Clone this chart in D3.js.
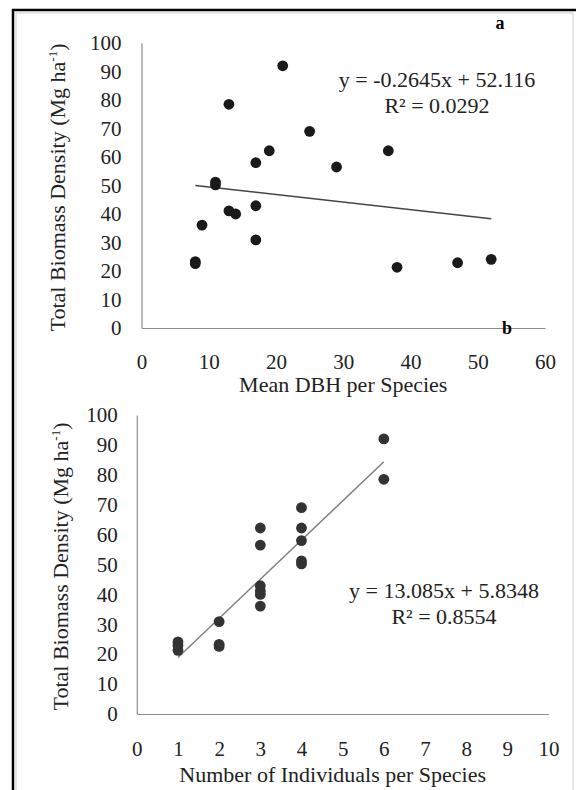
<!DOCTYPE html>
<html>
<head>
<meta charset="utf-8">
<script src="https://cdn.jsdelivr.net/npm/d3@7"></script>
<style>
  body { margin: 0; background: #fff; }
  svg { display: block; font-family: "Liberation Serif", "Times New Roman", serif; }
</style>
</head>
<body>
<div id="chart"></div>
<script>
const width = 576;
const height = 790;

// per-species values
const meanDbh     = [21, 13, 25, 19, 36.7, 17, 29, 11, 11, 17, 13, 14, 9, 17, 8, 8, 38, 47, 52];
const biomass     = [92, 78.5, 69, 62.2, 62.2, 58, 56.5, 51.2, 50.2, 42.9, 41.1, 40, 36.1, 30.9, 23.3, 22.6, 21.3, 22.9, 24.1];
const individuals = [6, 6, 4, 4, 3, 4, 3, 4, 4, 3, 3, 3, 3, 2, 2, 2, 1, 1, 1];

// linear fits as printed on the chart: [slope, intercept, xStart, xEnd]
const fitDbh = [-0.2645, 52.116, 8, 52];
const fitInd = [13.085, 5.8348, 1, 6];

const yTicks = [0, 10, 20, 30, 40, 50, 60, 70, 80, 90, 100];
const xTicksDbh = [0, 10, 20, 30, 40, 50, 60];
const xTicksInd = [0, 1, 2, 3, 4, 5, 6, 7, 8, 9, 10];

const svg = d3.select("#chart")
    .append("svg")
    .attr("width", width)
    .attr("height", height);

// frame
svg.append("rect")
    .attr("x", 16).attr("y", 13)
    .attr("width", 557).attr("height", 800)
    .attr("fill", "none")
    .attr("stroke", "#d0d0d0")
    .attr("stroke-width", 1);
svg.append("line").attr("x1", 13).attr("x2", 13).attr("y1", 9).attr("y2", height)
    .attr("stroke", "#000").attr("stroke-width", 2.5);
svg.append("line").attr("x1", 12).attr("x2", width).attr("y1", 10).attr("y2", 10)
    .attr("stroke", "#000").attr("stroke-width", 2.5);

function drawPanel(opt) {
    const x = d3.scaleLinear().domain(opt.xDomain).range([opt.left, opt.right]);
    const y = d3.scaleLinear().domain([0, 100]).range([opt.bottom, opt.top]);

    const g = svg.append("g");

    // axes
    const yAxis = g.append("g")
        .attr("transform", `translate(${opt.left},0)`)
        .call(d3.axisLeft(y).tickValues(yTicks).tickSize(0).tickPadding(opt.yPad));
    const xAxis = g.append("g")
        .attr("transform", `translate(0,${opt.bottom})`)
        .call(d3.axisBottom(x).tickValues(opt.xTicks).tickSize(0).tickPadding(opt.xPad));

    [yAxis, xAxis].forEach(a => {
        a.select(".domain").attr("stroke", "#8c8c8c").attr("stroke-width", 1.2);
        a.selectAll("text")
            .attr("font-family", "Liberation Serif")
            .attr("font-size", 21)
            .attr("fill", "#222");
    });

    // trend line
    const f = opt.fit;
    g.append("line")
        .attr("x1", x(f[2])).attr("y1", y(f[0] * f[2] + f[1]))
        .attr("x2", x(f[3])).attr("y2", y(f[0] * f[3] + f[1]))
        .attr("stroke", opt.lineColor)
        .attr("stroke-width", 1.5);

    // points
    g.append("g")
        .selectAll("circle")
        .data(opt.xs.map((d, i) => [d, biomass[i]]))
        .enter().append("circle")
        .attr("cx", d => x(d[0]))
        .attr("cy", d => y(d[1]))
        .attr("r", 5.4)
        .attr("fill", opt.dotColor);

    // titles
    const yt = g.append("text")
        .attr("transform", `translate(${opt.yTitleX},${(opt.top + opt.bottom) / 2 + 2}) rotate(-90)`)
        .attr("text-anchor", "middle")
        .attr("font-size", 22)
        .attr("fill", "#222");
    yt.append("tspan").text("Total Biomass Density (Mg ha");
    yt.append("tspan").attr("dy", -8).attr("font-size", 13).text("-1");
    yt.append("tspan").attr("dy", 8).text(")");

    g.append("text")
        .attr("x", (opt.left + opt.right) / 2 + opt.xTitleDx)
        .attr("y", opt.xTitleY)
        .attr("text-anchor", "middle")
        .attr("font-size", 22)
        .attr("fill", "#222")
        .text(opt.xTitle);

    // equation
    g.append("text")
        .attr("x", opt.eqX).attr("y", opt.eqY)
        .attr("text-anchor", "middle")
        .attr("font-size", 22)
        .attr("fill", "#222")
        .text(opt.eq);
    g.append("text")
        .attr("x", opt.eqX).attr("y", opt.eqY + 26)
        .attr("text-anchor", "middle")
        .attr("font-size", 22)
        .attr("fill", "#222")
        .text(opt.r2);
}

drawPanel({
    xs: meanDbh, xDomain: [0, 60], xTicks: xTicksDbh, fit: fitDbh,
    left: 141.5, right: 545, top: 43, bottom: 328,
    yPad: 20, xPad: 26,
    dotColor: "#1a1a1a", lineColor: "#444",
    yTitleX: 65, xTitle: "Mean DBH per Species", xTitleY: 392, xTitleDx: 0,
    eq: "y = -0.2645x + 52.116", r2: "R\u00b2 = 0.0292", eqX: 437, eqY: 87
});

drawPanel({
    xs: individuals, xDomain: [0, 10], xTicks: xTicksInd, fit: fitInd,
    left: 136.8, right: 548.5, top: 415, bottom: 714,
    yPad: 19, xPad: 27,
    dotColor: "#333", lineColor: "#808080",
    yTitleX: 68, xTitle: "Number of Individuals per Species", xTitleY: 782, xTitleDx: -10,
    eq: "y = 13.085x + 5.8348", r2: "R\u00b2 = 0.8554", eqX: 444, eqY: 598
});

// panel letters
svg.append("text").attr("x", 500).attr("y", 29)
    .attr("text-anchor", "middle").attr("font-weight", "bold").attr("font-size", 18)
    .text("a");
svg.append("text").attr("x", 507).attr("y", 334)
    .attr("text-anchor", "middle").attr("font-weight", "bold").attr("font-size", 18)
    .text("b");
</script>
</body>
</html>
